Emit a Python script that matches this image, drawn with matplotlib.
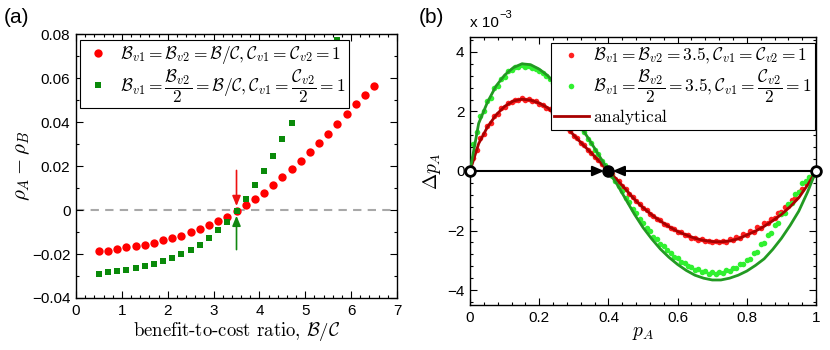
import numpy as np
import matplotlib
matplotlib.use('Agg')
import matplotlib.pyplot as plt
from matplotlib.ticker import MultipleLocator, AutoMinorLocator

plt.rcParams['font.family'] = ['Liberation Sans', 'DejaVu Sans']
plt.rcParams['mathtext.fontset'] = 'cm'

# ---- panel (a) data ----
ratio = [0.5, 0.7, 0.9, 1.1, 1.3, 1.5, 1.7, 1.9, 2.1, 2.3, 2.5, 2.7, 2.9, 3.1, 3.3,
         3.5, 3.7, 3.9, 4.1, 4.3, 4.5, 4.7, 4.9, 5.1, 5.3, 5.5, 5.7, 5.9, 6.1, 6.3, 6.5]
rho_sym = [-0.0187, -0.0185, -0.0179, -0.0168, -0.0163, -0.0157, -0.0148, -0.0136,
           -0.0126, -0.0116, -0.0102, -0.0086, -0.0070, -0.0050, -0.0030, -0.0006,
           0.0021, 0.0048, 0.0079, 0.0112, 0.0149, 0.0185, 0.0223, 0.0264, 0.0306,
           0.0347, 0.0390, 0.0435, 0.0480, 0.0521, 0.0565]
rho_asym = [-0.0290, -0.0283, -0.0277, -0.0271, -0.0262, -0.0253, -0.0246, -0.0232,
            -0.0217, -0.0202, -0.0182, -0.0158, -0.0127, -0.0091, -0.0054, -0.0004,
            0.0049, 0.0113, 0.0176, 0.0247, 0.0321, 0.0397, 0.0471, 0.0550, 0.0630,
            0.0705, 0.0773]
critical_ratio = 3.5
arrow_from = [0.018, -0.018]
arrow_to = [0.0018, -0.0026]

# ---- panel (b) data (units of 1e-3) ----
sim_sym = [0.0, 0.45, 0.7, 1.1, 1.25, 1.5, 1.62, 1.85, 1.93, 2.1,
           2.15, 2.3, 2.31, 2.4, 2.38, 2.45, 2.4, 2.42, 2.34, 2.35,
           2.26, 2.23, 2.12, 2.09, 1.95, 1.88, 1.71, 1.62, 1.45, 1.35,
           1.18, 1.1, 0.94, 0.86, 0.7, 0.62, 0.46, 0.38, 0.22, 0.14,
           0.0, -0.1, -0.26, -0.35, -0.52, -0.6, -0.77, -0.86, -1.02, -1.1,
           -1.25, -1.31, -1.45, -1.5, -1.62, -1.66, -1.78, -1.82, -1.93, -1.95,
           -2.05, -2.06, -2.15, -2.16, -2.24, -2.25, -2.31, -2.3, -2.36, -2.34,
           -2.39, -2.35, -2.4, -2.34, -2.37, -2.3, -2.32, -2.22, -2.25, -2.12,
           -2.15, -2.0, -2.04, -1.88, -1.9, -1.76, -1.75, -1.6, -1.58, -1.42,
           -1.38, -1.2, -1.18, -0.98, -0.92, -0.72, -0.62, -0.42, -0.3, -0.12,
           0.0]
sim_asym = [0.0, 0.9, 1.3, 1.85, 2.0, 2.35, 2.45, 2.78, 2.85, 3.1,
            3.15, 3.35, 3.38, 3.5, 3.48, 3.55, 3.5, 3.52, 3.45, 3.42,
            3.35, 3.28, 3.18, 3.1, 2.95, 2.82, 2.62, 2.45, 2.22, 2.06,
            1.83, 1.67, 1.45, 1.3, 1.08, 0.93, 0.72, 0.56, 0.35, 0.19,
            0.0, -0.16, -0.32, -0.52, -0.68, -0.9, -1.04, -1.27, -1.4, -1.62,
            -1.73, -1.92, -2.02, -2.2, -2.28, -2.44, -2.52, -2.67, -2.74, -2.88,
            -2.93, -3.06, -3.08, -3.2, -3.21, -3.32, -3.3, -3.4, -3.36, -3.45,
            -3.4, -3.46, -3.38, -3.43, -3.34, -3.36, -3.26, -3.26, -3.14, -3.14,
            -2.98, -2.94, -2.75, -2.72, -2.45, -2.42, -2.15, -2.08, -1.8, -1.75,
            -1.45, -1.42, -1.1, -1.08, -0.78, -0.72, -0.42, -0.35, -0.2, -0.12,
            0.0]
theory_sym = [0, 0.92, 1.47, 1.88, 2.17, 2.35, 2.41, 2.38, 2.28, 2.12, 1.84, 1.53,
              1.2, 0.9, 0.61, 0.31, 0, -0.3, -0.62, -0.95, -1.23, -1.47, -1.68,
              -1.87, -2.03, -2.15, -2.26, -2.33, -2.37, -2.38, -2.35, -2.28, -2.15,
              -2.02, -1.86, -1.67, -1.46, -1.2, -0.9, -0.48, 0]
theory_asym = [0, 1.6, 2.3, 2.85, 3.22, 3.47, 3.6, 3.57, 3.42, 3.2, 2.85, 2.35,
               1.85, 1.4, 0.95, 0.48, 0, -0.45, -0.95, -1.45, -1.9, -2.28, -2.62,
               -2.9, -3.14, -3.34, -3.5, -3.6, -3.66, -3.66, -3.6, -3.5, -3.36,
               -3.17, -2.95, -2.63, -2.26, -1.83, -1.35, -0.72, 0]
unstable_pts = [0.0, 1.0]
stable_pt = 0.4

fig = plt.figure(figsize=(8.3, 3.5), dpi=100)
ax1 = fig.add_axes([0.0916, 0.1486, 0.3867, 0.754])
ax2 = fig.add_axes([0.5663, 0.1286, 0.4169, 0.7657])

def style_axes(ax):
    ax.tick_params(which='both', direction='in', top=True, right=True,
                   labelsize=11, width=0.8, pad=4)
    ax.tick_params(which='major', length=5)
    ax.tick_params(which='minor', length=2.5)
    for s in ax.spines.values():
        s.set_linewidth(1.0)

# ---- (a) ----
ax1.axhline(0, color='#a8a8a8', lw=1.5, ls=(0, (4, 3)), zorder=1)
ax1.plot(ratio, rho_sym, 'o', color='#ff0000', ms=6, mew=0, zorder=3,
         label=r'$\mathcal{B}_{v1}=\mathcal{B}_{v2}=\mathcal{B}/\mathcal{C},\mathcal{C}_{v1}=\mathcal{C}_{v2}=1$')
ax1.plot(ratio[:len(rho_asym)], rho_asym, 's', color='#0a8a0a', ms=5, mew=0, zorder=3,
         label=r'$\mathcal{B}_{v1}=\dfrac{\mathcal{B}_{v2}}{2}=\mathcal{B}/\mathcal{C},\mathcal{C}_{v1}=\dfrac{\mathcal{C}_{v2}}{2}=1$')
for y0, y1, c in zip(arrow_from, arrow_to, ['#ee1111', '#118811']):
    ax1.annotate('', xy=(critical_ratio, y1), xytext=(critical_ratio, y0),
                 arrowprops=dict(arrowstyle='-|>,head_width=0.25,head_length=0.6',
                                 color=c, lw=1.2, shrinkA=0, shrinkB=0), zorder=4)
ax1.set_xlim(0, 7)
ax1.set_ylim(-0.04, 0.08)
ax1.xaxis.set_major_locator(MultipleLocator(1))
ax1.xaxis.set_minor_locator(AutoMinorLocator(5))
ax1.yaxis.set_major_locator(MultipleLocator(0.02))
ax1.yaxis.set_minor_locator(AutoMinorLocator(2))
ax1.set_yticks([-0.04, -0.02, 0, 0.02, 0.04, 0.06, 0.08])
ax1.set_yticklabels(['\u22120.04', '\u22120.02', '0', '0.02', '0.04', '0.06', '0.08'])
style_axes(ax1)
ax1.set_xlabel(r'benefit-to-cost ratio, $\mathcal{B}/\mathcal{C}$', family='cmr10',
               fontsize=13.5, labelpad=2)
ax1.set_ylabel(r'$\rho_A-\rho_B$', fontsize=15, labelpad=0)
leg1 = ax1.legend(loc='upper left', bbox_to_anchor=(0.0125, 0.977), fontsize=12.5,
                  frameon=True, fancybox=False, edgecolor='black', framealpha=1,
                  handlelength=1.7, handletextpad=0.4, borderpad=0.2, labelspacing=0.1,
                  borderaxespad=0)
leg1.get_frame().set_linewidth(0.8)
leg1.set_zorder(5)

# ---- (b) ----
p_sim = np.linspace(0, 1, len(sim_sym))
p_th = np.linspace(0, 1, len(theory_sym))
ax2.plot(p_sim, sim_sym, 'o', color='#ff2020', ms=4, mew=0, zorder=2,
         label=r'$\mathcal{B}_{v1}=\mathcal{B}_{v2}=3.5,\mathcal{C}_{v1}=\mathcal{C}_{v2}=1$')
ax2.plot(p_sim, sim_asym, 'o', color='#30f030', ms=4, mew=0, zorder=2,
         label=r'$\mathcal{B}_{v1}=\dfrac{\mathcal{B}_{v2}}{2}=3.5,\mathcal{C}_{v1}=\dfrac{\mathcal{C}_{v2}}{2}=1$')
ax2.plot(p_th, theory_sym, '-', color='#a80000', lw=2, zorder=3,
         label=r'$\mathrm{analytical}$')
ax2.plot(p_th, theory_asym, '-', color='#229a22', lw=2, zorder=3)

for start in unstable_pts:
    ax2.annotate('', xy=(stable_pt + 0.012 * np.sign(start - stable_pt), 0), xytext=(start, 0),
                 arrowprops=dict(arrowstyle='-|>,head_width=0.3,head_length=0.7',
                                 color='black', lw=1.5, shrinkA=0, shrinkB=0), zorder=4)
ax2.plot(unstable_pts, [0, 0], 'o', ms=7, mfc='white', mec='black', mew=2, zorder=6,
         clip_on=False)
ax2.plot([stable_pt], [0], 'o', ms=8, color='black', zorder=6)

ax2.set_xlim(0, 1)
ax2.set_ylim(-4.5, 4.5)
ax2.xaxis.set_major_locator(MultipleLocator(0.2))
ax2.xaxis.set_minor_locator(AutoMinorLocator(5))
ax2.yaxis.set_major_locator(MultipleLocator(2))
ax2.yaxis.set_minor_locator(AutoMinorLocator(5))
ax2.set_xticks([0, 0.2, 0.4, 0.6, 0.8, 1])
ax2.set_xticklabels(['0', '0.2', '0.4', '0.6', '0.8', '1'])
ax2.set_yticks([-4, -2, 0, 2, 4])
ax2.set_yticklabels(['\u22124', '\u22122', '0', '2', '4'])
style_axes(ax2)
ax2.set_xlabel(r'$p_A$', fontsize=14, labelpad=0)
ax2.set_ylabel(r'$\Delta p_A$', fontsize=14, labelpad=3)
ax2.text(0.0, 1.025, 'x 10', transform=ax2.transAxes, fontsize=11, va='bottom', ha='left')
ax2.text(0.085, 1.065, '\u22123', transform=ax2.transAxes, fontsize=8, va='bottom', ha='left')
leg2 = ax2.legend(loc='upper right', bbox_to_anchor=(0.997, 0.979), fontsize=12.5,
                  frameon=True, fancybox=False, edgecolor='black', framealpha=1,
                  handlelength=2.0, handletextpad=0.25, borderpad=0.2, labelspacing=0.1,
                  borderaxespad=0, markerscale=1.0)
leg2.get_frame().set_linewidth(0.8)
leg2.set_zorder(7)

fig.text(0.004, 0.949, '(a)', fontsize=15, va='center', ha='left')
fig.text(0.505, 0.949, '(b)', fontsize=15, va='center', ha='left')

fig.savefig('out.png', dpi=100)
